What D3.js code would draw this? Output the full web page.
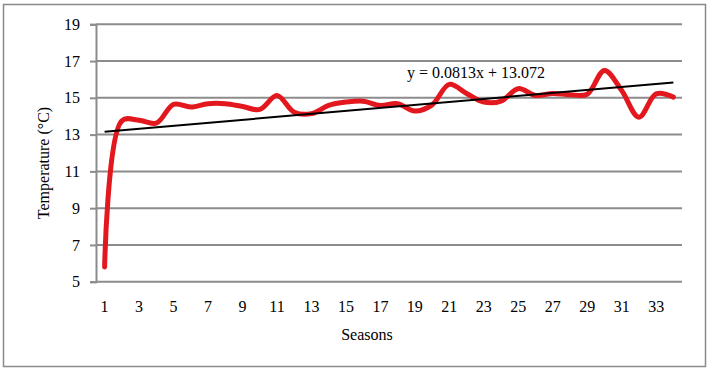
<!DOCTYPE html>
<html>
<head>
<meta charset="utf-8">
<script src="https://cdn.jsdelivr.net/npm/d3@7"></script>
<style>
  body { margin: 0; background: #fff; }
</style>
</head>
<body>
<div id="chart"></div>
<script>
let seasons = [1, 2, 3, 4, 5, 6, 7, 8, 9, 10, 11, 12, 13, 14, 15, 16, 17,
  18, 19, 20, 21, 22, 23, 24, 25, 26, 27, 28, 29, 30, 31, 32, 33, 34];
let temps = [5.8, 13.75, 13.78, 13.62, 14.65, 14.5, 14.68, 14.68, 14.53, 14.37,
  15.13, 14.22, 14.14, 14.59, 14.77, 14.82, 14.59, 14.68, 14.28, 14.62,
  15.73, 15.24, 14.77, 14.82, 15.5, 15.13, 15.24, 15.17, 15.2, 16.49,
  15.4, 13.95, 15.22, 15.04];
let yTicks = [5, 7, 9, 11, 13, 15, 17, 19];
let xTicks = [1, 3, 5, 7, 9, 11, 13, 15, 17, 19, 21, 23, 25, 27, 29, 31, 33];
let slope = 0.0813,
  intercept = 13.072;

let width = 710,
  height = 370;

let plotLeft = 96, plotRight = 682, plotTop = 24.3, plotBottom = 281.7;
let serif = "'Times New Roman', 'Liberation Serif', 'DejaVu Serif', serif";

let svg = d3.select("#chart")
  .append("svg")
  .attr("width", width)
  .attr("height", height)
  .style("font-family", serif);

// outer frame
svg.append("rect")
  .attr("x", 3.5)
  .attr("y", 4.5)
  .attr("width", 702)
  .attr("height", 362)
  .attr("fill", "#fff")
  .attr("stroke", "#8a8a8a")
  .attr("stroke-width", 1.5);

let x = d3.scaleBand()
  .domain(seasons)
  .range([plotLeft, plotRight]);

let y = d3.scaleLinear()
  .domain([5, 19])
  .range([plotBottom, plotTop]);

let cx = s => x(s) + x.bandwidth() / 2;

// gridlines
svg.append("g")
  .selectAll("line")
  .data(yTicks)
  .join("line")
  .attr("x1", plotLeft)
  .attr("x2", plotRight)
  .attr("y1", d => y(d))
  .attr("y2", d => y(d))
  .attr("stroke", "#8c8c8c")
  .attr("stroke-width", 2);

// y axis
let yAxis = svg.append("g")
  .attr("transform", `translate(${plotLeft},0)`)
  .call(d3.axisLeft(y).tickValues(yTicks).tickSize(6).tickPadding(10));
yAxis.attr("font-family", null).attr("font-size", null);
yAxis.select(".domain").attr("stroke", "#8c8c8c").attr("stroke-width", 2);
yAxis.selectAll(".tick line").attr("stroke", "#8c8c8c").attr("stroke-width", 2);
yAxis.selectAll("text").style("font-size", "16px").style("font-family", serif);

// x axis
let xAxis = svg.append("g")
  .attr("transform", `translate(0,${plotBottom})`)
  .call(d3.axisBottom(x).tickValues(xTicks).tickSize(0).tickPadding(19));
xAxis.attr("font-family", null).attr("font-size", null);
xAxis.select(".domain").remove();
xAxis.selectAll("text").style("font-size", "16px").style("font-family", serif);

// data line, smoothed
let line = d3.line()
  .x((d, i) => cx(seasons[i]))
  .y(d => y(d))
  .curve(d3.curveCatmullRom.alpha(0.5));

svg.append("path")
  .datum(temps)
  .attr("d", line)
  .attr("fill", "none")
  .attr("stroke", "#e3171e")
  .attr("stroke-width", 5)
  .attr("stroke-linejoin", "round")
  .attr("stroke-linecap", "round");

// linear trend
let first = seasons[0], last = seasons[seasons.length - 1];
svg.append("line")
  .attr("x1", cx(first))
  .attr("x2", cx(last))
  .attr("y1", y(slope * first + intercept))
  .attr("y2", y(slope * last + intercept))
  .attr("stroke", "#000")
  .attr("stroke-width", 2);

svg.append("text")
  .attr("x", 407)
  .attr("y", 78)
  .style("font-size", "16px")
  .text(`y = ${slope}x + ${intercept}`);

// axis titles
svg.append("text")
  .attr("transform", "translate(43,163) rotate(-90)")
  .attr("text-anchor", "middle")
  .attr("dy", "0.35em")
  .style("font-size", "16px")
  .text("Temperature (°C)");

svg.append("text")
  .attr("x", 367)
  .attr("y", 340)
  .attr("text-anchor", "middle")
  .style("font-size", "16px")
  .text("Seasons");
</script>
</body>
</html>
